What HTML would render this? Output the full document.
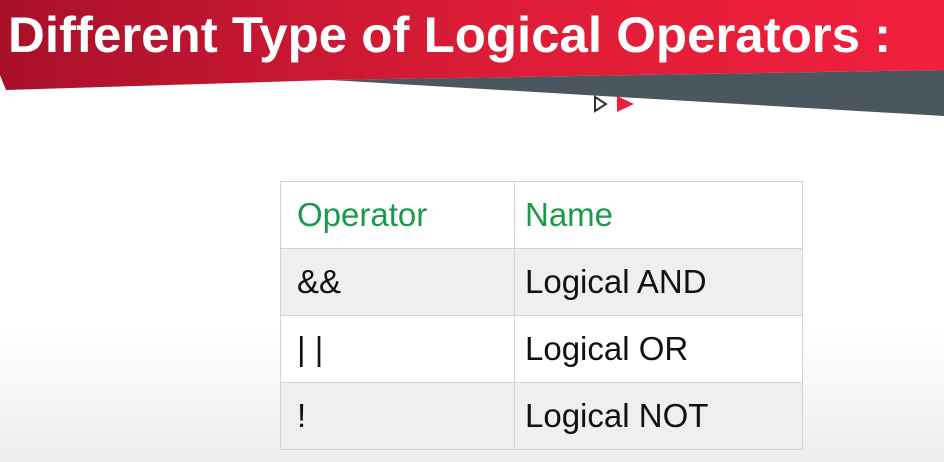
<!DOCTYPE html>
<html><head><style>
body{margin:0;width:944px;height:462px;overflow:hidden;background:linear-gradient(#fff 0,#fff 330px,#ececec 462px);position:relative;font-family:"Liberation Sans",sans-serif}
svg{position:absolute;left:0;top:0}
.t{position:absolute;left:8px;top:6px;color:#fff;font-size:50px;font-weight:bold;white-space:nowrap;transform-origin:0 0;transform:scaleX(1.02)}
table{position:absolute;left:280px;top:181px;border-collapse:collapse;font-size:33px;color:#111}
td{border:1px solid #d4d4d4;height:67px;padding:0 0 0 10px;box-sizing:border-box}
td:first-child{width:234px;padding-left:16px}
td:last-child{width:288px}
tr:nth-child(even) td{background:#efefef}
tr:nth-child(odd) td{background:#fff}
.h td{color:#1a9a4a}
</style></head><body>
<svg width="944" height="462">
<defs><linearGradient id="g" x1="0" x2="1"><stop offset="0" stop-color="#a8102a"/><stop offset="0.5" stop-color="#db1c36"/><stop offset="1" stop-color="#f2203e"/></linearGradient></defs>
<polygon points="330,80 944,70 944,116" fill="#4b575e"/>
<polygon points="0,0 944,0 944,70 330,80 6,90 0,75" fill="url(#g)"/>
<polygon points="595,97 606,104 595,111" fill="none" stroke="#333" stroke-width="2"/>
<polygon points="617,96 634,104 617,112" fill="#e8203c"/>
</svg>
<div class="t">Different Type of Logical Operators :</div>
<table>
<tr class="h"><td>Operator</td><td>Name</td></tr>
<tr><td>&amp;&amp;</td><td>Logical AND</td></tr>
<tr><td>| |</td><td>Logical OR</td></tr>
<tr><td>!</td><td>Logical NOT</td></tr>
</table>
</body></html>
